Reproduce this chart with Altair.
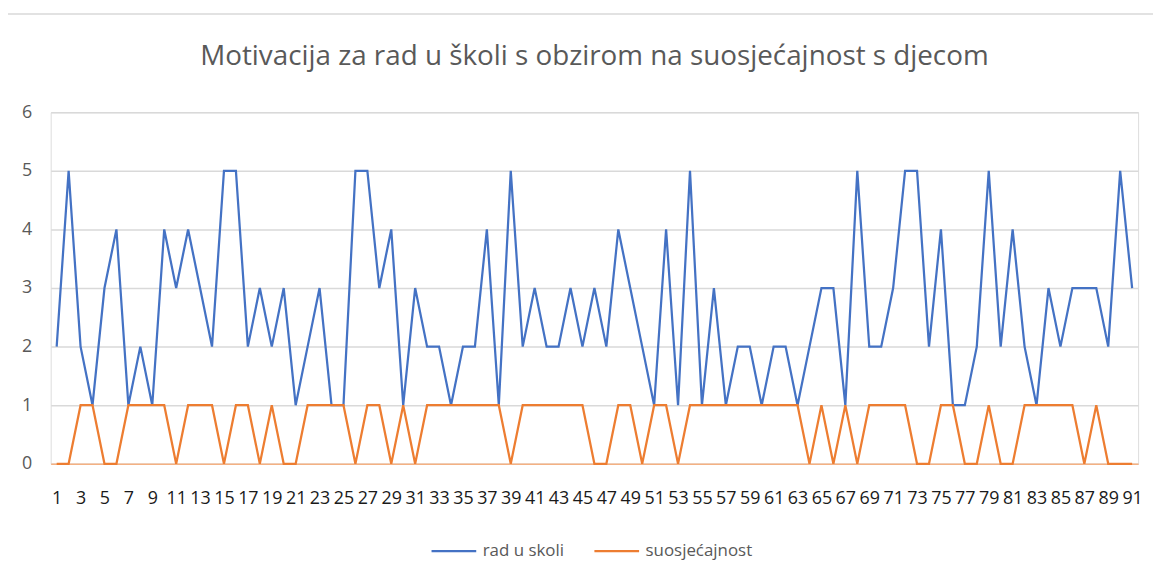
import altair as alt
import pandas as pd

idx = list(range(1, 92))
rad_u_skoli = [2,5,2,1,3,4,1,2,1,4, 3,4,3,2,5,5,2,3,2,3,
               1,2,3,1,1,5,5,3,4,1, 3,2,2,1,2,2,4,1,5,2,
               3,2,2,3,2,3,2,4,3,2, 1,4,1,5,1,3,1,2,2,1,
               2,2,1,2,3,3,1,5,2,2, 3,5,5,2,4,1,1,2,5,2,
               4,2,1,3,2,3,3,3,2,5, 3]
suosjecajnost = [0,0,1,1,0,0,1,1,1,1, 0,1,1,1,0,1,1,0,1,0,
                 0,1,1,1,1,0,1,1,0,1, 0,1,1,1,1,1,1,1,0,1,
                 1,1,1,1,1,0,0,1,1,0, 1,1,0,1,1,1,1,1,1,1,
                 1,1,1,0,1,0,1,0,1,1, 1,1,0,0,1,1,0,0,1,0,
                 0,1,1,1,1,1,0,1,0,0, 0]
series_names = ["rad u skoli", "suosjećajnost"]
series_colors = ["#4472C4", "#ED7D31"]
x_tick_values = list(range(1, 92, 2))
y_tick_values = [0, 1, 2, 3, 4, 5, 6]

df = pd.concat([
    pd.DataFrame({"i": idx, "v": rad_u_skoli, "s": series_names[0]}),
    pd.DataFrame({"i": idx, "v": suosjecajnost, "s": series_names[1]}),
])

FONT = "Open Sans"

lines = alt.Chart(df).mark_line(strokeWidth=2.25, clip=False).encode(
    x=alt.X("i:Q",
            scale=alt.Scale(domain=[0.5, 91.5], nice=False, zero=False),
            axis=alt.Axis(values=x_tick_values, title=None, grid=False, ticks=False,
                          domain=True, domainColor="#F4B183", domainWidth=1.5,
                          labelFont=FONT, labelFontSize=18, labelColor="#1a1a1a",
                          labelPadding=26, labelOverlap=False, labelFlush=False)),
    y=alt.Y("v:Q",
            scale=alt.Scale(domain=[0, 6], nice=False),
            axis=alt.Axis(values=y_tick_values, title=None, grid=True, gridColor="#d9d9d9",
                          gridWidth=1.5, ticks=False, domain=False,
                          labelFont=FONT, labelFontSize=18, labelColor="#595959",
                          labelPadding=19)),
    color=alt.Color("s:N",
                    scale=alt.Scale(domain=series_names, range=series_colors),
                    legend=alt.Legend(title=None, orient="none", direction="horizontal",
                                      legendX=382, legendY=418,
                                      symbolType="stroke", symbolSize=2025,
                                      symbolStrokeWidth=2.25, columnPadding=26,
                                      labelFont=FONT, labelFontSize=17,
                                      labelColor="#595959", labelOffset=5,
                                      padding=0)),
    order="i:Q",
)

# light chart-area frame (decoration)
frame = alt.Chart(pd.DataFrame({"f": [0]})).mark_rect(
    fill=None, stroke="#d9d9d9", strokeWidth=1.5, clip=False
).encode(
    x=alt.value(-44), x2=alt.value(1130),
    y=alt.value(-99), y2=alt.value(490),
)

chart = alt.layer(frame, lines).properties(
    width=1095,
    height=354,
    title=alt.TitleParams("Motivacija za rad u školi s obzirom na suosjećajnost s djecom",
                          font=FONT, fontSize=28, fontWeight="normal", color="#595959",
                          anchor="middle", offset=32, dy=90),
    autosize=alt.AutoSizeParams(type="none"),
    padding={"left": 43, "top": 103, "right": 15, "bottom": 112},
).configure_view(stroke=None).configure(background="white")

chart.save("out.html", embed_options={"renderer": "svg", "actions": False})
